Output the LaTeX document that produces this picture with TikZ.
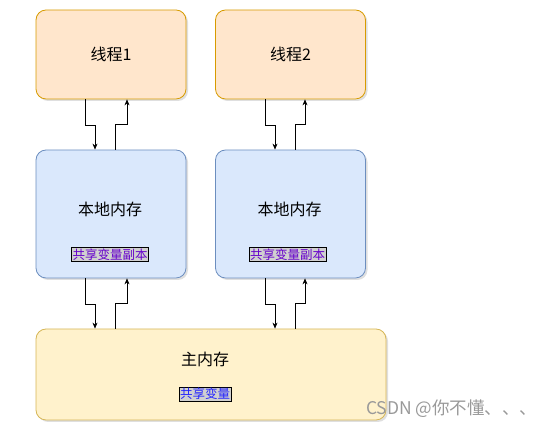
\documentclass[tikz,border=0pt]{standalone}
\usepackage{fontspec}
\setmainfont{Noto Sans CJK SC}
\usetikzlibrary{arrows.meta,shadows}

\definecolor{threadfill}{HTML}{FFE6CC}
\definecolor{threaddraw}{HTML}{D79B00}
\definecolor{localfill}{HTML}{DAE8FC}
\definecolor{localdraw}{HTML}{6C8EBF}
\definecolor{mainfill}{HTML}{FFF2CC}
\definecolor{maindraw}{HTML}{D6B656}
\definecolor{tagfill}{HTML}{D0D0D0}
\definecolor{tagpurple}{HTML}{6600CC}
\definecolor{tagblue}{HTML}{2222FF}

\tikzset{
  box/.style={rounded corners=10pt,line width=0.8pt,
    drop shadow={opacity=0.25,shadow xshift=2pt,shadow yshift=-2pt},
    font=\fontsize{16}{19}\selectfont},
  thread/.style={box,fill=threadfill,draw=threaddraw,
    minimum width=150pt,minimum height=89pt},
  local/.style={box,fill=localfill,draw=localdraw,
    minimum width=150pt,minimum height=128pt},
  mainmem/.style={box,fill=mainfill,draw=maindraw,
    minimum width=350pt,minimum height=91pt},
  boxtext/.style={font=\fontsize{16}{19}\selectfont},
  tag/.style={fill=tagfill,draw=black,line width=0.6pt,inner sep=1pt,
    font=\fontsize{12.5}{15}\selectfont},
  arr/.style={-{Stealth[length=6pt,width=5pt]},line width=0.6pt}
}

\begin{document}
\begin{tikzpicture}[x=1pt,y=1pt]
  \useasboundingbox (0,0) rectangle (557,427);

  % boxes
  \node[thread] (t1) at (111,372.5) {线程1};
  \node[thread] (t2) at (290.5,372.5) {线程2};
  \node[local] (m1) at (111,213) {};
  \node[local] (m2) at (290.5,213) {};
  \node[mainmem] (mm) at (211,52.5) {};

  % texts
  \node[boxtext] (m1txt) at (110,218) {本地内存};
  \node[boxtext] (m2txt) at (289.5,218) {本地内存};
  \node[boxtext] (mmtxt) at (205,68) {主内存};
  \node[tag,text=tagpurple] (c1) at (110,172.5) {共享变量副本};
  \node[tag,text=tagpurple] (c2) at (287.5,172.5) {共享变量副本};
  \node[tag,text=tagblue] (sv) at (205,33) {共享变量};

  % ports on main memory
  \coordinate (p1) at (mm.north -| m1.south);
  \coordinate (p2) at (mm.north -| m2.south);

  % connectors
  \draw[arr] ([xshift=-26pt]t1.south) -- ++(0,-25.5pt) -| ([xshift=-16pt]m1.north);
  \draw[arr] ([xshift=4pt]m1.north) -- ++(0,25.5pt) -| ([xshift=16pt]t1.south);
  \draw[arr] ([xshift=-25.5pt]t2.south) -- ++(0,-25.5pt) -| ([xshift=-15.5pt]m2.north);
  \draw[arr] ([xshift=4.5pt]m2.north) -- ++(0,25.5pt) -| ([xshift=14.5pt]t2.south);
  \draw[arr] ([xshift=-26pt]m1.south) -- ++(0,-25.5pt) -| ([xshift=-16pt]p1);
  \draw[arr] ([xshift=4pt]p1) -- ++(0,25.5pt) -| ([xshift=16pt]m1.south);
  \draw[arr] ([xshift=-25.5pt]m2.south) -- ++(0,-25.5pt) -| ([xshift=-15.5pt]p2);
  \draw[arr] ([xshift=4.5pt]p2) -- ++(0,25.5pt) -| ([xshift=14.5pt]m2.south);

  % watermark
  \node[anchor=west,text=black!40,inner sep=0pt,font=\fontsize{17.5}{20}\selectfont] (wm) at (366,18) {CSDN @你不懂、、、};
\end{tikzpicture}
\end{document}
